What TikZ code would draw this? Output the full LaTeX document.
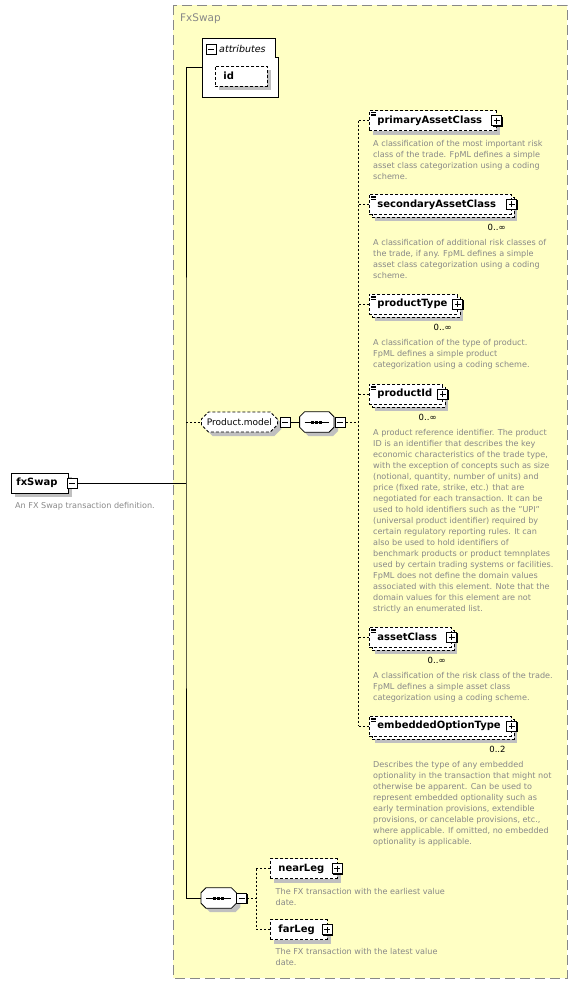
\documentclass[tikz,border=0pt]{standalone}
\usepackage{fontspec}
\setmainfont{DejaVu Sans}
\usetikzlibrary{positioning, shapes.misc, shadows}

\definecolor{groupfill}{RGB}{255,255,196}
\definecolor{groupline}{RGB}{136,136,136}
\definecolor{desctext}{RGB}{136,136,136}
\definecolor{shade}{RGB}{192,192,192}

\tikzset{
  conn/.style={line width=0.8pt},
  optconn/.style={line width=0.8pt, dash pattern=on 2pt off 2pt},
  elembox/.style={draw, line width=0.8pt, dash pattern=on 3pt off 2pt, fill=white, anchor=west,
    minimum height=20pt, inner xsep=8pt, inner ysep=0pt, align=left,
    font=\fontsize{10}{12}\selectfont\bfseries},
  oneelem/.style={elembox, drop shadow={shadow xshift=4pt, shadow yshift=-4pt, fill=shade, opacity=1}},
  manyelem/.style={elembox, drop shadow={shadow xshift=6pt, shadow yshift=-7pt, fill=shade, opacity=1},
    copy shadow={shadow xshift=3pt, shadow yshift=-3pt, fill=white, draw=black, line width=0.8pt,
      dash pattern=on 3pt off 2pt, opacity=1}},
  reficon/.style={path picture={
    \foreach \dy in {1.8,3.3,4.8}
      \draw[solid, line width=0.6pt] ([shift={(1.5pt,-\dy pt)}]path picture bounding box.north west) -- ++(5pt,0pt);}},
  togglebox/.style={draw, solid, fill=white, line width=0.8pt, minimum size=10pt, inner sep=0pt,
    drop shadow={shadow xshift=1pt, shadow yshift=-1pt, fill=black, opacity=1}},
  plusbox/.style={togglebox, path picture={
    \draw[line width=0.7pt] ([xshift=2pt]path picture bounding box.west) -- ([xshift=-2pt]path picture bounding box.east)
      ([yshift=-2pt]path picture bounding box.north) -- ([yshift=2pt]path picture bounding box.south);}},
  minusbox/.style={togglebox, path picture={
    \draw[line width=0.7pt] ([xshift=2pt]path picture bounding box.west) -- ([xshift=-2pt]path picture bounding box.east);}},
  modelbox/.style={chamfered rectangle, chamfered rectangle xsep=5pt, draw, line width=0.8pt, fill=white,
    dash pattern=on 3pt off 2pt, minimum width=76pt, minimum height=20pt, inner sep=0pt, anchor=west,
    font=\fontsize{9}{11}\selectfont,
    drop shadow={shadow xshift=4pt, shadow yshift=-4pt, fill=shade, opacity=1}},
  seqbox/.style={minimum width=34pt, minimum height=20pt, inner sep=0pt, anchor=west},
  desc/.style={anchor=north west, inner sep=0pt, align=left, text=desctext, font=\fontsize{8.1}{11}\selectfont},
  mult/.style={anchor=east, inner sep=0pt, font=\fontsize{8.5}{10}\selectfont},
}

% chamfered sequence compositor drawn round a named node
\newcommand{\seqshape}[1]{%
  \draw[conn, fill=white, drop shadow={shadow xshift=4pt, shadow yshift=-4pt, fill=shade, opacity=1}]
    ([xshift=5pt]#1.north west) -- ([xshift=-5pt]#1.north east) -- ([yshift=-5pt]#1.north east)
    -- ([yshift=5pt]#1.south east) -- ([xshift=-5pt]#1.south east) -- ([xshift=5pt]#1.south west)
    -- ([yshift=5pt]#1.south west) -- ([yshift=-5pt]#1.north west) -- cycle;
  \draw[line width=0.9pt] ([xshift=5pt]#1.west) -- ([xshift=-5pt]#1.east);
  \foreach \dx in {-5.5,-1.5,2.5}
    \fill ([xshift=\dx pt, yshift=-1.5pt]#1.center) rectangle +(3pt,3pt);}

\begin{document}
\begin{tikzpicture}[x=1pt, y=-1pt]
  \useasboundingbox (0,0) rectangle (578,985);

  % complex type FxSwap
  \draw[groupline, fill=groupfill, line width=1pt, dash pattern=on 10pt off 5pt] (173,5) rectangle (567,978);
  \node[anchor=west, inner sep=0pt, text=groupline, font=\fontsize{10.5}{12}\selectfont] (typename) at (180,19) {FxSwap};

  % root element
  \node[oneelem, solid, inner xsep=5pt, text width=47pt] (fxswap) at (11,483) {fxSwap};
  \node[minusbox, right=-2pt of fxswap] (fxtoggle) {};
  \node[desc, below=8.5pt of fxswap.south west, anchor=north west, xshift=4pt] (fxdesc) {An FX Swap transaction definition.};

  % attributes
  \node[minimum width=76pt, minimum height=59pt, anchor=north west, inner sep=0pt] (attrs) at (202,38) {};
  \draw[conn, fill=white] (attrs.north west) -- ([xshift=-3pt]attrs.north east) -- ([xshift=-3pt,yshift=-19pt]attrs.north east)
    -- ([yshift=-19pt]attrs.north east) -- (attrs.south east) -- (attrs.south west) -- cycle;
  \node[minusbox] (attrtoggle) at (211,49) {};
  \node[anchor=west, inner sep=0pt, font=\fontsize{9.5}{11}\selectfont\itshape] (attrlabel) at (219,48.5) {attributes};
  \node[oneelem, text width=36pt] (idattr) at (215,76) {id};

  % Product.model
  \node[modelbox] (pm) at (201,422) {Product.model};
  \node[minusbox, right=2pt of pm] (pmtoggle) {};
  \node[seqbox, right=9pt of pmtoggle] (seqA) {};
  \seqshape{seqA}
  \node[minusbox, right=1pt of seqA] (seqAtoggle) {};
  \coordinate[right=13pt of seqAtoggle] (choiceA);

  \node[oneelem, reficon, text width=111pt] (e1) at (369,120.7) {primaryAssetClass};
  \node[plusbox] (e1toggle) at (e1.east) {};
  \node[desc, below=9pt of e1.south west, anchor=north west, xshift=4pt] (d1) {A classification of the most important risk\\class of the trade. FpML defines a simple\\asset class categorization using a coding\\scheme.};

  \node[manyelem, reficon, text width=126pt] (e2) at (369,204.3) {secondaryAssetClass};
  \node[plusbox] (e2toggle) at (e2.east) {};
  \node[mult] (m2) at ([xshift=-6pt,yshift=-13pt]e2.south east) {0..∞};
  \node[desc, below=24.5pt of e2.south west, anchor=north west, xshift=4pt] (d2) {A classification of additional risk classes of\\the trade, if any. FpML defines a simple\\asset class categorization using a coding\\scheme.};

  \node[manyelem, reficon, text width=72pt] (e3) at (369,304) {productType};
  \node[plusbox] (e3toggle) at (e3.east) {};
  \node[mult] (m3) at ([xshift=-6pt,yshift=-13pt]e3.south east) {0..∞};
  \node[desc, below=24.5pt of e3.south west, anchor=north west, xshift=4pt] (d3) {A classification of the type of product.\\FpML defines a simple product\\categorization using a coding scheme.};

  \node[manyelem, reficon, text width=57pt] (e4) at (369,394) {productId};
  \node[plusbox] (e4toggle) at (e4.east) {};
  \node[mult] (m4) at ([xshift=-6pt,yshift=-13pt]e4.south east) {0..∞};
  \node[desc, below=24.5pt of e4.south west, anchor=north west, xshift=4pt] (d4) {A product reference identifier. The product\\ID is an identifier that describes the key\\economic characteristics of the trade type,\\with the exception of concepts such as size\\(notional, quantity, number of units) and\\price (fixed rate, strike, etc.) that are\\negotiated for each transaction. It can be\\used to hold identifiers such as the "UPI"\\(universal product identifier) required by\\certain regulatory reporting rules. It can\\also be used to hold identifiers of\\benchmark products or product temnplates\\used by certain trading systems or facilities.\\FpML does not define the domain values\\associated with this element. Note that the\\domain values for this element are not\\strictly an enumerated list.};

  \node[manyelem, reficon, text width=66pt] (e5) at (369,637) {assetClass};
  \node[plusbox] (e5toggle) at (e5.east) {};
  \node[mult] (m5) at ([xshift=-6pt,yshift=-13pt]e5.south east) {0..∞};
  \node[desc, below=24.5pt of e5.south west, anchor=north west, xshift=4pt] (d5) {A classification of the risk class of the trade.\\FpML defines a simple asset class\\categorization using a coding scheme.};

  \node[manyelem, reficon, text width=126pt] (e6) at (369,726) {embeddedOptionType};
  \node[plusbox] (e6toggle) at (e6.east) {};
  \node[mult] (m6) at ([xshift=-6pt,yshift=-13pt]e6.south east) {0..2};
  \node[desc, below=24.5pt of e6.south west, anchor=north west, xshift=4pt] (d6) {Describes the type of any embedded\\optionality in the transaction that might not\\otherwise be apparent. Can be used to\\represent embedded optionality such as\\early termination provisions, extendible\\provisions, or cancelable provisions, etc.,\\where applicable. If omitted, no embedded\\optionality is applicable.};

  % legs
  \node[seqbox, minimum width=35pt] (seqB) at (201,898) {};
  \seqshape{seqB}
  \node[minusbox, right=0pt of seqB] (seqBtoggle) {};
  \coordinate[right=9pt of seqBtoggle] (choiceB);

  \node[oneelem, text width=50.5pt] (near) at (270,868.5) {nearLeg};
  \node[plusbox] (neartoggle) at (near.east) {};
  \node[desc, below=9.5pt of near.south west, anchor=north west, xshift=5.5pt] (neardesc) {The FX transaction with the earliest value\\date.};

  \node[oneelem, text width=40.5pt] (far) at (270,929.7) {farLeg};
  \node[plusbox] (fartoggle) at (far.east) {};
  \node[desc, below=8.5pt of far.south west, anchor=north west, xshift=5.5pt] (fardesc) {The FX transaction with the latest value\\date.};

  % connectors
  \coordinate (bus) at (186,483);
  \draw[conn] (fxtoggle.east) -- (bus);
  \draw[conn] (attrs.west) -| (bus) |- (seqB.west);
  \draw[optconn] (bus |- pm.west) -- (pm.west);
  \draw[conn] (pmtoggle.east) -- (seqA.west);
  \draw[optconn] (seqAtoggle.east) -- (choiceA);
  \draw[optconn] (choiceA |- e1.west) -- (choiceA |- e6.west);
  \foreach \e in {e1,e2,e3,e4,e5,e6}
    \draw[optconn] (choiceA |- \e.west) -- (\e.west);
  \draw[optconn] (seqBtoggle.east) -- (choiceB);
  \draw[optconn] (choiceB |- near.west) -- (choiceB |- far.west);
  \draw[optconn] (choiceB |- near.west) -- (near.west);
  \draw[optconn] (choiceB |- far.west) -- (far.west);
\end{tikzpicture}
\end{document}
